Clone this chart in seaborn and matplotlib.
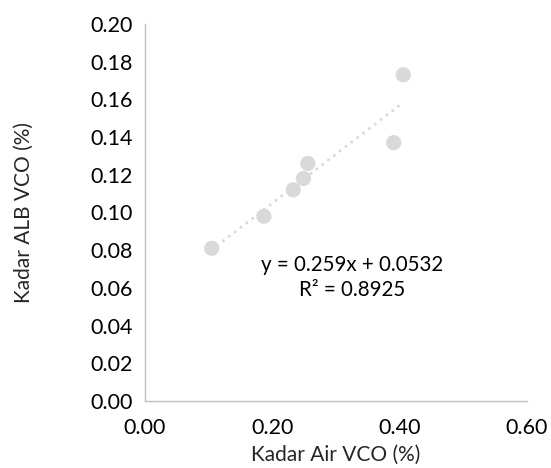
import numpy as np
import pandas as pd
import seaborn as sns
import matplotlib.pyplot as plt

# Data
kadar_air = [0.105, 0.187, 0.233, 0.249, 0.256, 0.391, 0.406]
kadar_alb = [0.081, 0.098, 0.112, 0.118, 0.126, 0.137, 0.173]
x_ticks = [0.00, 0.20, 0.40, 0.60]
y_ticks = [0.00, 0.02, 0.04, 0.06, 0.08, 0.10, 0.12, 0.14, 0.16, 0.18, 0.20]
eq_label = "y = 0.259x + 0.0532\nR² = 0.8925"

df = pd.DataFrame({'air': kadar_air, 'alb': kadar_alb})

sns.set_style('white')
plt.rcParams['font.family'] = ['Lato', 'DejaVu Sans']

fig = plt.figure(figsize=(5.51, 4.68), dpi=100)
ax = fig.add_axes([0.263, 0.143, 0.693, 0.806])

grey = '#d9d9d9'
sns.regplot(data=df, x='air', y='alb', ax=ax, ci=None, scatter=False,
            line_kws={'color': grey, 'linewidth': 2.2,
                      'linestyle': (0, (0.01, 2.4)), 'dash_capstyle': 'round'})
sns.scatterplot(data=df, x='air', y='alb', ax=ax, color=grey, s=120,
                edgecolor='none', zorder=3)

ax.text(0.325, 0.0655, eq_label, ha='center', va='center', fontsize=14.8,
        color='black', linespacing=1.35)

ax.set_xlim(0, 0.6)
ax.set_ylim(0, 0.2)
ax.set_xticks(x_ticks)
ax.set_yticks(y_ticks)
ax.set_xticklabels([f"{v:.2f}" for v in x_ticks])
ax.set_yticklabels([f"{v:.2f}" for v in y_ticks])
ax.set_xlabel('Kadar Air VCO (%)', fontsize=15, labelpad=5)
ax.set_ylabel('Kadar ALB VCO (%)', fontsize=15, labelpad=40)

for side in ['top', 'right']:
    ax.spines[side].set_visible(False)
for side in ['left', 'bottom']:
    ax.spines[side].set_color('#bfbfbf')
    ax.spines[side].set_linewidth(1)
ax.tick_params(axis='both', direction='out', length=5, width=1,
               color='#bfbfbf', labelsize=15.5, labelcolor='black', pad=4)
ax.tick_params(axis='x', pad=7)

fig.savefig('out.png', dpi=100)
